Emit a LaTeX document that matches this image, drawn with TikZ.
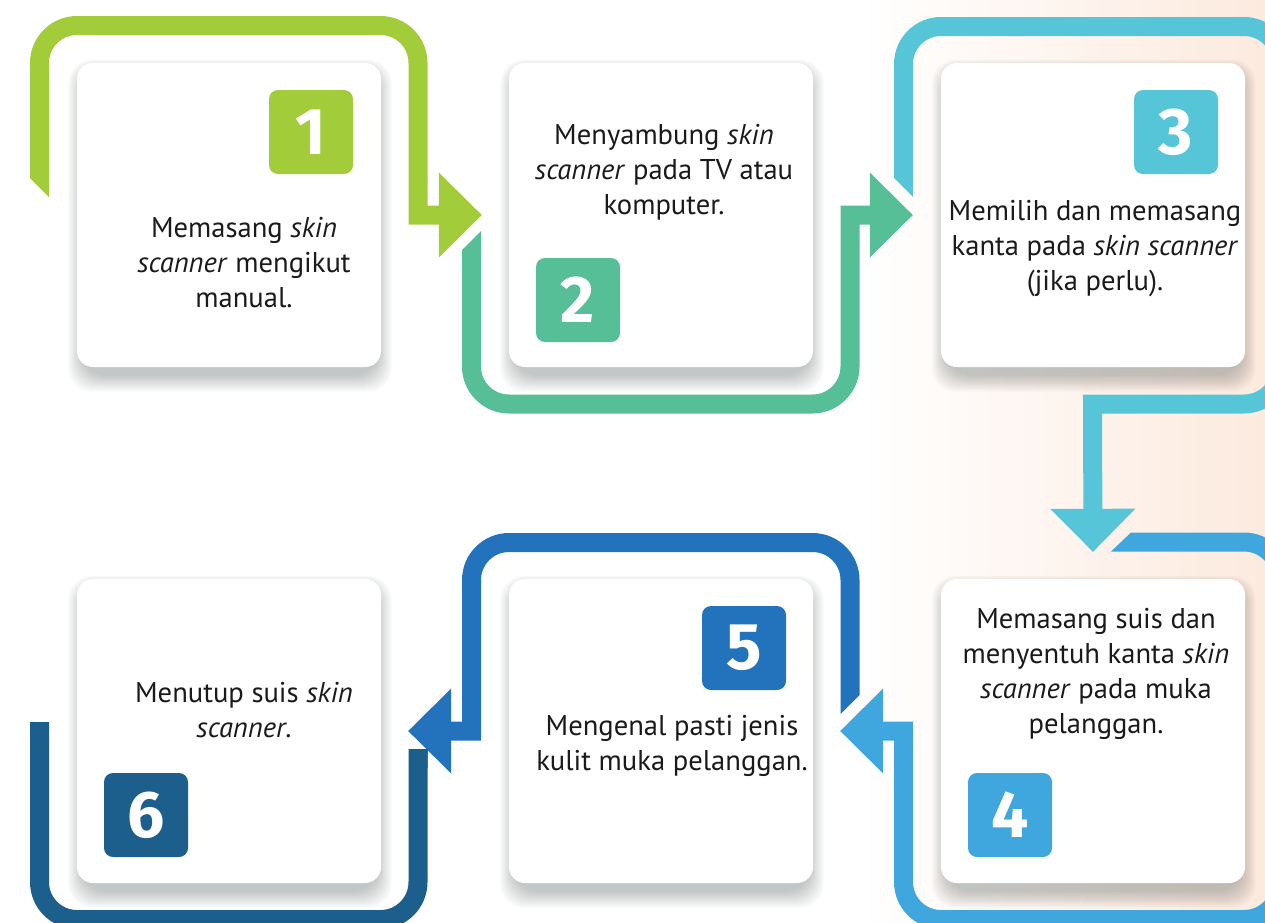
\documentclass[tikz,border=0pt]{standalone}
\usepackage{fontspec}
\setmainfont{PT Sans}
\newfontfamily\numfont{Fira Sans}
\usetikzlibrary{arrows.meta}
\definecolor{stepone}{RGB}{163,204,59}
\definecolor{steptwo}{RGB}{86,191,152}
\definecolor{stepthree}{RGB}{86,197,215}
\definecolor{stepfour}{RGB}{63,167,222}
\definecolor{stepfive}{RGB}{35,115,188}
\definecolor{stepsix}{RGB}{28,94,140}
\definecolor{peach}{RGB}{252,234,222}
\definecolor{inktext}{RGB}{26,26,26}
\definecolor{shadowgrey}{RGB}{60,80,80}
\tikzset{
  card/.style={fill=white, rounded corners=16pt, minimum width=304pt, minimum height=304pt},
  cardshadow/.style={fill=shadowgrey, opacity=0.014, rounded corners=24pt},
  badge/.style={fill=#1, rounded corners=9pt, minimum width=84pt, minimum height=84pt, inner sep=0pt,
    text=white, font=\numfont\bfseries\fontsize{66}{66}\selectfont},
  caption/.style={align=center, text=inktext, anchor=base, inner sep=0pt, font=\fontsize{28.6}{35}\selectfont},
  band/.style={draw=#1, line width=19pt, -{Triangle[width=85pt,length=43pt,line width=0pt]}},
  bandline/.style={draw=#1, line width=19pt},
}
\begin{document}
\begin{tikzpicture}[x=1pt,y=-1pt]
    \clip (0,0) rectangle (1265,922);
    % background
    \fill[white] (0,0) rectangle (1265,922);
    \shade[left color=white,right color=peach] (860,0) rectangle (1265,922);

    % soft shadows under the cards
    \foreach \cx/\cy in {229/215,661/215,1093/215,1093/731,661/731,229/731}
      \foreach \k in {0,...,19}
        \fill[cardshadow] (\cx-146-0.8*\k,\cy-144-0.6*\k) rectangle (\cx+148+0.8*\k,\cy+160+0.9*\k);

    % cards
    \node[card] (b1) at (229,215) {};
    \node[card] (b2) at (661,215) {};
    \node[card] (b3) at (1093,215) {};
    \node[card] (b4) at (1093,731) {};
    \node[card] (b5) at (661,731) {};
    \node[card] (b6) at (229,731) {};

    % numbers
    \node[badge=stepone] (n1) at (311,132) {1};
    \node[badge=steptwo] (n2) at (578,300) {2};
    \node[badge=stepthree] (n3) at (1176,132) {3};
    \node[badge=stepfour] (n4) at (1010,815) {4};
    \node[badge=stepfive] (n5) at (744,648) {5};
    \node[badge=stepsix] (n6) at (146,815) {6};

    % texts (anchored on the last line)
    \node[caption] (t1) at (244,307) {Memasang \textit{skin}\\\textit{scanner} mengikut\\manual.};
    \node[caption] (t2) at (664,214) {Menyambung \textit{skin}\\\textit{scanner} pada TV atau\\komputer.};
    \node[caption] (t3) at (1095,290) {Memilih dan memasang\\kanta pada \textit{skin scanner}\\(jika perlu).};
    \node[caption] (t4) at (1096,733) {Memasang suis dan\\menyentuh kanta \textit{skin}\\\textit{scanner} pada muka\\pelanggan.};
    \node[caption] (t5) at (672,770) {Mengenal pasti jenis\\kulit muka pelanggan.};
    \node[caption] (t6) at (244,737) {Menutup suis \textit{skin}\\\textit{scanner}.};

    % bands
    \fill[stepone] (30,178) -- (49,178) -- (49,197) -- cycle;
    \draw[band=stepone] (39.5,178) [rounded corners=37.5pt] -- (39.5,25.5) -- (418,25.5)
        [sharp corners] -- (418,215) -- ([xshift=-27pt]b2.west);

    \fill[steptwo] (462,250) -- (481,250) -- (481,231) -- cycle;
    \draw[band=steptwo] (471.5,250) [rounded corners=37.5pt] -- (471.5,404) -- (850,404)
        [sharp corners] -- (850,215) -- ([xshift=-28pt]b3.west);

    \fill[stepthree] (894,178) -- (913,178) -- (913,197) -- cycle;
    \draw[band=stepthree] (903.5,178) [rounded corners=37.5pt] -- (903.5,26.5) -- (1281.5,26.5)
        -- (1281.5,404) [sharp corners] -- (1092.5,404) -- ([yshift=27pt]b4.north);

    \fill[stepfour] (1131,532.5) -- (1131,551.5) -- (1111,551.5) -- cycle;
    \draw[band=stepfour] (1131,542) [rounded corners=37.5pt] -- (1281.5,542) -- (1281.5,919.5)
        -- (903.5,919.5) [sharp corners] -- (903.5,731) -- ([xshift=27pt]b5.east);

    \fill[stepfive] (840.5,695) -- (859.5,695) -- (840.5,714) -- cycle;
    \draw[band=stepfive] (850,695) [rounded corners=37.5pt] -- (850,542.5) -- (471.5,542.5)
        [sharp corners] -- (471.5,731) -- ([xshift=27pt]b6.east);

    \fill[stepsix] (408.5,749) -- (427.5,749) -- (427.5,768) -- cycle;
    \draw[bandline=stepsix] (418,749) [rounded corners=37.5pt] -- (418,919.5) -- (39.5,919.5)
        -- (39.5,722);
\end{tikzpicture}
\end{document}
